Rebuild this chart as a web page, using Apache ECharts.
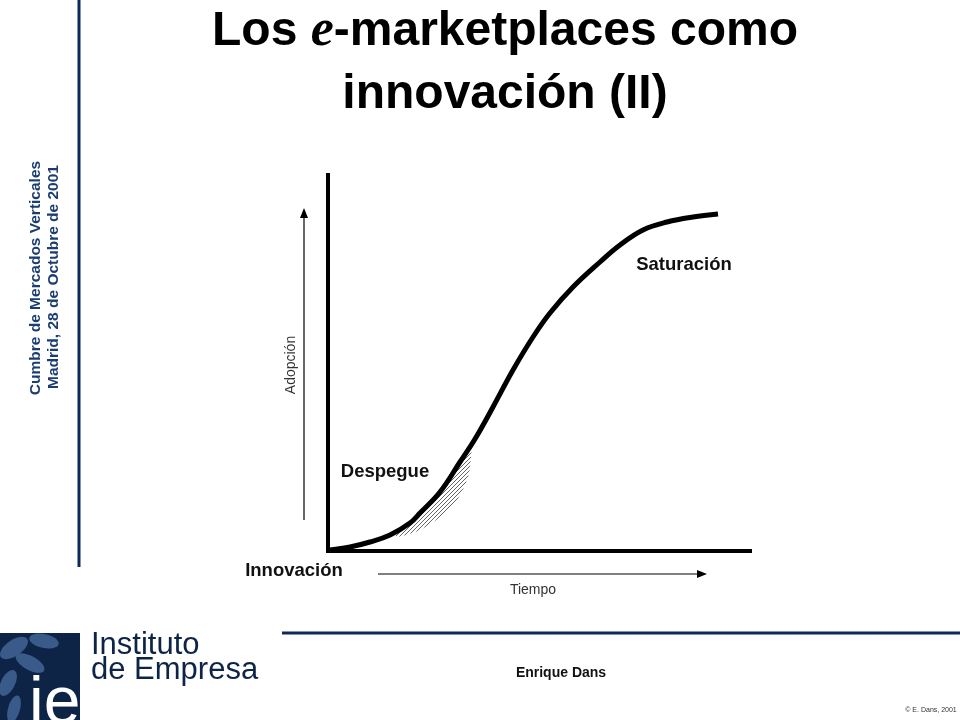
<!DOCTYPE html>
<html>
<head>
<meta charset="utf-8">
<script src="https://cdn.jsdelivr.net/npm/echarts@6/dist/echarts.min.js"></script>
<style>
html,body{margin:0;padding:0;background:#fff;}
#chart{width:960px;height:720px;}
</style>
</head>
<body>
<div id="chart"></div>
<script>
// Adoption S-curve (arbitrary units: time vs adoption)
const curveTime     = [2, 22, 42, 62, 82, 92, 112, 132, 147, 165, 185, 205, 222, 245, 272, 292, 315, 339, 365, 390];
const curveAdoption = [1, 4, 9, 16, 28, 38, 59, 89, 112, 144, 181, 214, 238, 264, 289, 306, 321, 329, 334, 337];

// Hatched "Despegue" region: upper edge along the curve, lower edge below it
const hatchUpperTime     = [67, 82, 92, 112, 132, 143];
const hatchUpperAdoption = [18, 28, 38, 59, 89, 105];
const hatchLowerTime     = [143, 140, 129, 112, 92, 69];
const hatchLowerAdoption = [93, 74, 51, 34, 21, 14];

const phaseLabels = ['Innovación', 'Despegue', 'Saturación'];
const axisNames = { x: 'Tiempo', y: 'Adopción' };

const navy = '#0c2a57';
const FONT = 'Liberation Sans, Arial, sans-serif';

// diagonal hatch pattern
const pc = document.createElement('canvas');
pc.width = 4; pc.height = 4;
const pctx = pc.getContext('2d');
pctx.strokeStyle = '#666';
pctx.lineWidth = 1;
pctx.beginPath();
pctx.moveTo(0, 4); pctx.lineTo(4, 0);
pctx.moveTo(-1, 1); pctx.lineTo(1, -1);
pctx.moveTo(3, 5); pctx.lineTo(5, 3);
pctx.stroke();

const chart = echarts.init(document.getElementById('chart'), null, { renderer: 'canvas' });

const curveData = curveTime.map((t, i) => [t, curveAdoption[i]]);

function txt(text, x, y, size, opts) {
  return {
    type: 'text',
    style: Object.assign({
      text: text, x: x, y: y, align: 'center', verticalAlign: 'middle',
      fontFamily: FONT, fontSize: size, fill: '#111'
    }, opts || {})
  };
}
function vtxt(text, x, y, size, opts) {
  return {
    type: 'text', x: x, y: y, rotation: Math.PI / 2,
    style: Object.assign({
      text: text, x: 0, y: 0, align: 'center', verticalAlign: 'middle',
      fontFamily: FONT, fontSize: size, fill: '#111'
    }, opts || {})
  };
}

const option = {
  backgroundColor: '#fff',
  animation: false,
  grid: { left: 328, top: 175, width: 422, height: 376 },
  xAxis: {
    type: 'value', min: 0, max: 422,
    axisLine: { show: true, onZero: false, lineStyle: { color: '#000', width: 4, cap: 'square' } },
    axisTick: { show: false }, axisLabel: { show: false }, splitLine: { show: false }
  },
  yAxis: {
    type: 'value', min: 0, max: 376,
    axisLine: { show: true, onZero: false, lineStyle: { color: '#000', width: 4, cap: 'square' } },
    axisTick: { show: false }, axisLabel: { show: false }, splitLine: { show: false }
  },
  series: [
    {
      type: 'custom',
      z: 1,
      clip: false,
      data: [[0, 0]],
      renderItem: function (params, api) {
        const pts = [];
        hatchUpperTime.forEach((t, i) => pts.push(api.coord([t, hatchUpperAdoption[i]])));
        hatchLowerTime.forEach((t, i) => pts.push(api.coord([t, hatchLowerAdoption[i]])));
        return {
          type: 'polygon',
          shape: { points: pts, smooth: 0.3 },
          style: { fill: { image: pc, repeat: 'repeat' }, stroke: null }
        };
      }
    },
    {
      type: 'line',
      z: 3,
      data: curveData,
      smooth: 0.4,
      showSymbol: false,
      lineStyle: { color: '#000', width: 5 }
    }
  ],
  graphic: [
    // title
    {
      type: 'text',
      style: {
        text: '{a|Los }{e|e}{a|-marketplaces como}',
        x: 505, y: 32, align: 'center', verticalAlign: 'middle',
        rich: {
          a: { fontFamily: FONT, fontWeight: 'bold', fontSize: 48, fill: '#000' },
          e: { fontFamily: 'Liberation Serif, Times New Roman, serif', fontStyle: 'italic', fontWeight: 'bold', fontSize: 52, fill: '#000' }
        }
      }
    },
    txt('innovación (II)', 505, 95, 48, { fontWeight: 'bold', fill: '#000' }),
    // left navy rule and vertical texts
    { type: 'line', shape: { x1: 79, y1: 0, x2: 79, y2: 567 }, style: { stroke: navy, lineWidth: 3 } },
    vtxt('Cumbre de Mercados Verticales', 36, 278, 15.5, { fontWeight: 'bold', fill: '#1b3d70' }),
    vtxt('Madrid, 28 de Octubre de 2001', 54, 277, 15.5, { fontWeight: 'bold', fill: '#1b3d70' }),
    // axis arrows
    { type: 'line', shape: { x1: 304, y1: 520, x2: 304, y2: 216 }, style: { stroke: '#000', lineWidth: 1.2 } },
    { type: 'polygon', shape: { points: [[304, 208], [300, 218], [308, 218]] }, style: { fill: '#000' } },
    { type: 'line', shape: { x1: 378, y1: 574, x2: 698, y2: 574 }, style: { stroke: '#000', lineWidth: 1.2 } },
    { type: 'polygon', shape: { points: [[707, 574], [697, 570], [697, 578]] }, style: { fill: '#000' } },
    vtxt(axisNames.y, 291, 365, 14, { fill: '#333' }),
    txt(axisNames.x, 533, 590, 14, { fill: '#333' }),
    // phase labels
    txt(phaseLabels[0], 294, 571, 18.5, { fontWeight: 'bold' }),
    txt(phaseLabels[1], 385, 472, 18.5, { fontWeight: 'bold' }),
    txt(phaseLabels[2], 684, 265, 18.5, { fontWeight: 'bold' }),
    // footer rule
    { type: 'line', shape: { x1: 282, y1: 633, x2: 960, y2: 633 }, style: { stroke: navy, lineWidth: 3 } },
    // logo block
    { type: 'rect', shape: { x: 0, y: 633, width: 80, height: 87 }, style: { fill: '#0d2447' } },
    { type: 'ellipse', shape: { cx: 14, cy: 648, rx: 16, ry: 8 }, rotation: 0.6, originX: 14, originY: 648, style: { fill: '#3a5b8a' } },
    { type: 'ellipse', shape: { cx: 44, cy: 641, rx: 15, ry: 7 }, rotation: -0.2, originX: 44, originY: 641, style: { fill: '#3a5b8a' } },
    { type: 'ellipse', shape: { cx: 30, cy: 663, rx: 16, ry: 7 }, rotation: -0.5, originX: 30, originY: 663, style: { fill: '#3a5b8a' } },
    { type: 'ellipse', shape: { cx: 8, cy: 683, rx: 14, ry: 7 }, rotation: 1.1, originX: 8, originY: 683, style: { fill: '#3a5b8a' } },
    { type: 'ellipse', shape: { cx: 14, cy: 709, rx: 14, ry: 6 }, rotation: 1.3, originX: 14, originY: 709, style: { fill: '#3a5b8a' } },
    txt('ie', 29, 738, 66, { align: 'left', verticalAlign: 'bottom', fill: '#fff' }),
    txt('Instituto', 91, 645, 31, { align: 'left', fill: '#0d2447' }),
    txt('de Empresa', 91, 670, 31, { align: 'left', fill: '#0d2447' }),
    txt('Enrique Dans', 561, 673, 14, { fontWeight: 'bold' }),
    txt('© E. Dans, 2001', 931, 710, 7, { fill: '#333' })
  ]
};

chart.setOption(option);
</script>
</body>
</html>
